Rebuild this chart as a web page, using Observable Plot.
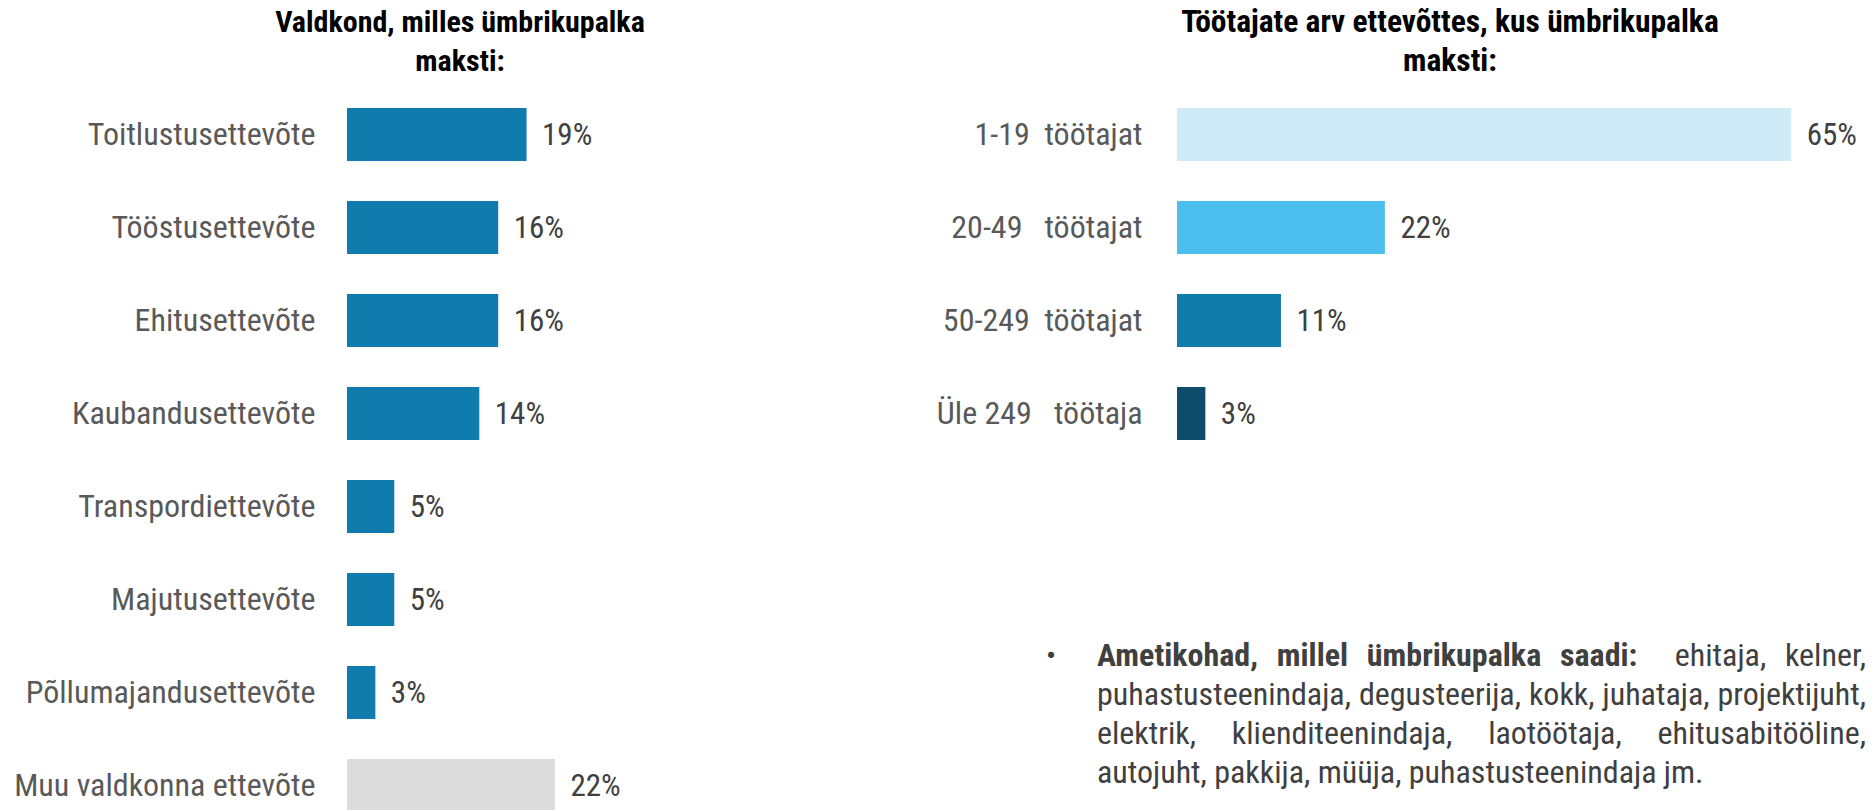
<!DOCTYPE html>
<html><head><meta charset="utf-8">
<script src="https://cdn.jsdelivr.net/npm/d3@7"></script>
<script src="https://cdn.jsdelivr.net/npm/@observablehq/plot@0.6"></script>
<style>
html,body{margin:0;padding:0;background:#fff;width:1875px;height:810px;overflow:hidden;}
body{font-family:"Roboto Condensed","Liberation Sans Narrow",Roboto,sans-serif;}
#wrap{position:relative;width:1875px;height:810px;}
.title{position:absolute;top:2px;font-weight:bold;line-height:39px;color:#000;text-align:center;}
.chart{position:absolute;top:0;}
.chart svg{overflow:visible;}
.chart svg text{white-space:pre;}
#note{position:absolute;left:1097px;top:636px;width:769px;font-size:32px;line-height:39px;color:#404040;text-align:justify;}
#bullet{position:absolute;left:1046px;top:636px;font-size:30px;line-height:39px;color:#404040;}
</style></head>
<body><div id="wrap">
<div class="title" id="t1" style="left:110px;width:700px;font-size:30px;"></div>
<div class="title" id="t2" style="left:1100px;width:700px;font-size:31.5px;"></div>
<div class="chart" id="c1" style="left:0px;"></div>
<div class="chart" id="c2" style="left:900px;"></div>
<div id="bullet">•</div>
<div id="note"></div>
</div>
<script>
const titleLeft = ["Valdkond, milles ümbrikupalka", "maksti:"];
const titleRight = ["Töötajate arv ettevõttes, kus ümbrikupalka", "maksti:"];

const sectors = ["Toitlustusettevõte","Tööstusettevõte","Ehitusettevõte","Kaubandusettevõte","Transpordiettevõte","Majutusettevõte","Põllumajandusettevõte","Muu valdkonna ettevõte"];
const sectorValues = [19,16,16,14,5,5,3,22];

const sizes = ["1-19  töötajat","20-49   töötajat","50-249  töötajat","Üle 249   töötaja"];
const sizeValues = [65,22,11,3];

const noteBold = "Ametikohad, millel ümbrikupalka saadi:";
const noteText = "ehitaja, kelner, puhastusteenindaja, degusteerija, kokk, juhataja, projektijuht, elektrik, klienditeenindaja, laotöötaja, ehitusabitööline, autojuht, pakkija, müüja, puhastusteenindaja jm.";

const sectorColors = ["#107CAD","#107CAD","#107CAD","#107CAD","#107CAD","#107CAD","#107CAD","#DCDCDC"];
const sizeColors = ["#D0EBF8","#4CBFEE","#0F7CAC","#0D4C6A"];

document.getElementById("t1").innerHTML = titleLeft.join("<br>");
document.getElementById("t2").innerHTML = titleRight.join("<br>");
document.getElementById("note").innerHTML = "<b>" + noteBold + "</b>&nbsp; " + noteText;

const font = '"Roboto Condensed","Liberation Sans Narrow",Roboto,sans-serif';
const pxPerPct = 9.45;

function makeChart(labels, values, colors, width, x0, pad, range, labelSize) {
  const data = labels.map((l, i) => ({label: l, value: values[i]}));
  return Plot.plot({
    width, height: 810,
    marginLeft: x0, marginRight: 0, marginTop: 0, marginBottom: 0,
    x: {domain: [0, 100], range: [x0, x0 + 100 * pxPerPct], axis: null},
    y: {domain: labels, range, paddingInner: 0.43, paddingOuter: 0.215, axis: null},
    color: {domain: labels, range: colors},
    style: {fontFamily: font, fontSize: labelSize + "px", color: "#595959", background: "transparent"},
    marks: [
      Plot.barX(data, {x: "value", y: "label", fill: "label"}),
      Plot.text(data, {x: "value", y: "label", text: d => d.value + "%", textAnchor: "start", dx: 15, fill: "#404040", fontSize: 31}),
      Plot.axisY({anchor: "left", tickSize: 0, tickPadding: pad, fontSize: labelSize, color: "#595959", label: null})
    ]
  });
}

document.getElementById("c1").append(makeChart(sectors, sectorValues, sectorColors, 900, 347, 32, [88, 832], 32));
document.getElementById("c2").append(makeChart(sizes, sizeValues, sizeColors, 975, 277, 35, [88, 460], 32));
</script>
</body></html>
